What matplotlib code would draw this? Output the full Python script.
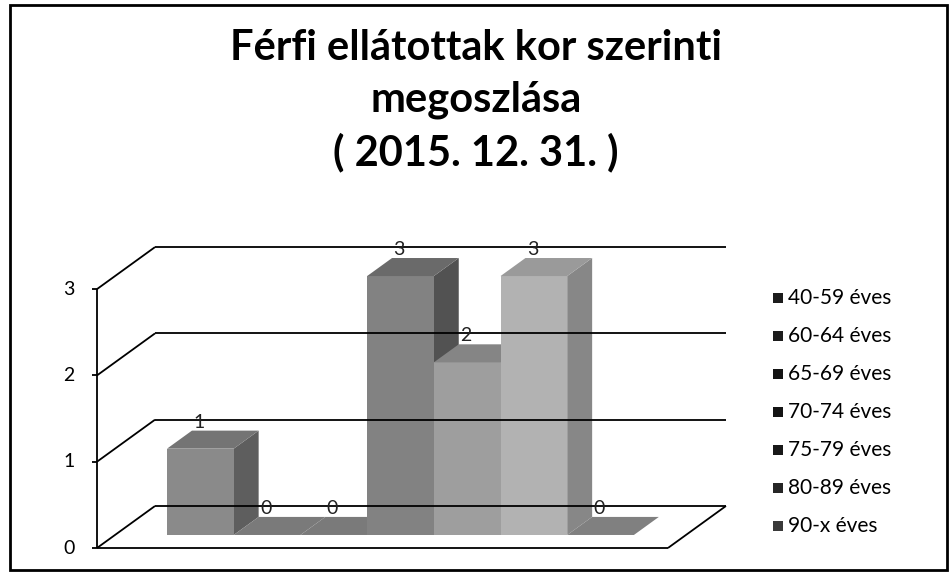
import matplotlib.pyplot as plt
from matplotlib.patches import Polygon, Rectangle

# data
groups = ['40-59 éves', '60-64 éves', '65-69 éves', '70-74 éves',
          '75-79 éves', '80-89 éves', '90-x éves']
counts = [1, 0, 0, 3, 2, 3, 0]
yticks = [0, 1, 2, 3]
title = 'Férfi ellátottak kor szerinti\nmegoszlása\n( 2015. 12. 31. )'

front = ['#8a8a8a', '#888888', '#888888', '#828282', '#9e9e9e', '#b2b2b2', '#939393']
side = ['#5e5e5e', '#5a5a5a', '#5a5a5a', '#525252', '#6e6e6e', '#878787', '#6a6a6a']
top = ['#747474', '#7a7a7a', '#7a7a7a', '#6a6a6a', '#858585', '#9a9a9a', '#808080']
legend_cols = ['#1c1c1c', '#1c1c1c', '#141414', '#141414', '#181818', '#262626', '#3a3a3a']

W, H = 952, 575
UX, UY = 66.7, 86.3          # pixels per data unit
X0, Y0 = 97, 27              # pixel of the front-left floor corner (from bottom-left)
DX, DY = 58 / UX, 42 / UY    # full depth offset of the floor
F0, F1 = 0.31, 0.74          # depth of bar front and back faces
PAD = 0.78                   # gap between wall and first bar
n = len(counts)
width_x = PAD * 2 + n

fig = plt.figure(figsize=(W / 100, H / 100), dpi=100)
ax = fig.add_axes([0, 0, 1, 1])
ax.set_xlim(-X0 / UX, (W - X0) / UX)
ax.set_ylim(-Y0 / UY, (H - Y0) / UY)
ax.axis('off')

font = 'Lato'
k = dict(color='black', lw=1.3, solid_capstyle='butt')

# walls and floor
ymax = max(yticks)
for t in yticks:
    ax.plot([DX, width_x + DX], [t + DY, t + DY], **k)
    ax.plot([0, DX], [t, t + DY], **k)
    ax.plot([-0.08, 0], [t, t], **k)
    ax.text(-0.42, t, str(t), ha='center', va='center', fontsize=14, family=font)
ax.plot([0, 0], [0, ymax], **k)
ax.plot([0, width_x], [0, 0], **k)
ax.plot([width_x, width_x + DX], [0, DY], **k)

# bars: front face via bar(), top and right side as polygons
xf = [PAD + i + F0 * DX for i in range(n)]
yb = F0 * DY
ddx, ddy = (F1 - F0) * DX, (F1 - F0) * DY
for i, v in enumerate(counts):
    x0, x1 = xf[i], xf[i] + 1
    ax.add_patch(Polygon([(x1, yb), (x1 + ddx, yb + ddy), (x1 + ddx, yb + v + ddy), (x1, yb + v)],
                         closed=True, facecolor=side[i], edgecolor='none'))
    ax.bar(x0, v, width=1, bottom=yb, align='edge', color=front[i], edgecolor='none')
    ax.add_patch(Polygon([(x0, yb + v), (x1, yb + v), (x1 + ddx, yb + v + ddy), (x0 + ddx, yb + v + ddy)],
                         closed=True, facecolor=top[i], edgecolor='none'))
    ax.text(x0 + 0.48, yb + v + ddy, str(v), ha='center', va='bottom',
            fontsize=14, family=font, color='#222222')

# title
fig.text(0.5, 1 - 101 / H, title, ha='center', va='center', fontsize=30,
         fontweight='bold', family=font, linespacing=1.42)

# legend
for i, g in enumerate(groups):
    yy = 1 - (298 + i * 38) / H
    fig.patches.append(Rectangle((773 / W, yy - 5 / H), 10 / W, 10 / H,
                                 transform=fig.transFigure, facecolor=legend_cols[i],
                                 edgecolor='none'))
    fig.text(788 / W, yy, g, ha='left', va='center', fontsize=15, family=font)

# outer frame
fig.patches.append(Rectangle((10 / W, 5 / H), 937 / W, 565 / H, transform=fig.transFigure,
                             fill=False, edgecolor='black', lw=2))

fig.savefig('out.png', dpi=100)
